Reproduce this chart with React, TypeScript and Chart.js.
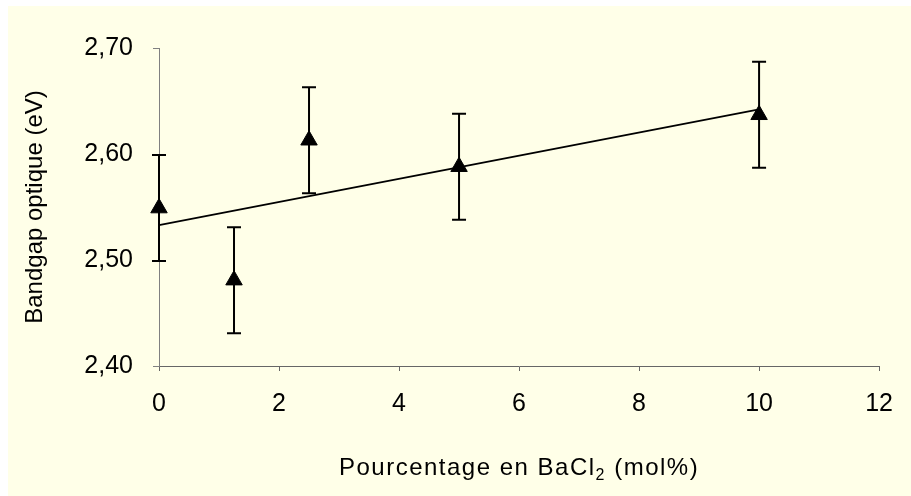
import React, { useEffect, useRef } from "react";
import { Chart, registerables } from "chart.js";

Chart.register(...registerables);

const xValues = [0, 1.25, 2.5, 5, 10];
const bandgap = [2.549, 2.481, 2.613, 2.588, 2.637];
const errors = [0.05, 0.05, 0.05, 0.05, 0.05];
const trendX = [0, 10];
const trendY = [2.533, 2.642];
const yTitle = "Bandgap optique (eV)";
const xTitleMain = "Pourcentage en BaCl";
const xTitleSub = "2";
const xTitleEnd = " (mol%)";

const FONT = "'Liberation Sans', Arial, sans-serif";

const errorBarPlugin = {
  id: "errorBars",
  beforeDatasetsDraw(chart: any) {
    const { ctx, scales } = chart;
    ctx.save();
    ctx.strokeStyle = "#000";
    ctx.lineWidth = 2;
    xValues.forEach((xv, i) => {
      const px = scales.x.getPixelForValue(xv);
      const top = scales.y.getPixelForValue(bandgap[i] + errors[i]);
      const bot = scales.y.getPixelForValue(bandgap[i] - errors[i]);
      ctx.beginPath();
      ctx.moveTo(px, top);
      ctx.lineTo(px, bot);
      ctx.moveTo(px - 7, top);
      ctx.lineTo(px + 7, top);
      ctx.moveTo(px - 7, bot);
      ctx.lineTo(px + 7, bot);
      ctx.stroke();
    });
    ctx.restore();
  },
};

const xTitlePlugin = {
  id: "xTitle",
  afterDraw(chart: any) {
    const { ctx, chartArea } = chart;
    ctx.save();
    ctx.fillStyle = "#000";
    (ctx as any).letterSpacing = "1.5px";
    const main = "24px " + FONT;
    const sub = "16px " + FONT;
    ctx.font = main;
    const w1 = ctx.measureText(xTitleMain).width;
    const w3 = ctx.measureText(xTitleEnd).width;
    ctx.font = sub;
    const w2 = ctx.measureText(xTitleSub).width;
    const total = w1 + w2 + w3;
    const cx = (chartArea.left + chartArea.right) / 2;
    const baseline = chart.height - 21;
    let x = cx - total / 2;
    ctx.textBaseline = "alphabetic";
    ctx.textAlign = "left";
    ctx.font = main;
    ctx.fillText(xTitleMain, x, baseline);
    x += w1;
    ctx.font = sub;
    ctx.fillText(xTitleSub, x, baseline + 5);
    x += w2;
    ctx.font = main;
    ctx.fillText(xTitleEnd, x, baseline);
    ctx.restore();
  },
};

export default function App() {
  const ref = useRef<HTMLCanvasElement>(null);
  useEffect(() => {
    if (!ref.current) return;
    const chart = new Chart(ref.current, {
      type: "scatter",
      data: {
        datasets: [
          {
            label: "Bandgap",
            data: xValues.map((x, i) => ({ x, y: bandgap[i] })),
            pointStyle: "triangle",
            pointRadius: 9.5,
            pointHoverRadius: 9.5,
            pointBackgroundColor: "#000",
            pointBorderColor: "#000",
            pointBorderWidth: 1,
            showLine: false,
            clip: false,
            order: 1,
          } as any,
          {
            label: "Trend",
            type: "line",
            data: trendX.map((x, i) => ({ x, y: trendY[i] })),
            borderColor: "#000",
            borderWidth: 1.75,
            pointRadius: 0,
            fill: false,
            clip: false,
            order: 2,
          } as any,
        ],
      },
      options: {
        animation: false,
        responsive: false,
        maintainAspectRatio: false,
        layout: { padding: { top: 42, right: 25, left: 0, bottom: 0 } },
        plugins: {
          legend: { display: false },
          tooltip: { enabled: false },
        },
        scales: {
          x: {
            type: "linear",
            min: 0,
            max: 12,
            ticks: {
              stepSize: 2,
              color: "#000",
              font: { family: FONT, size: 25 },
              padding: 18,
              maxRotation: 0,
            },
            grid: {
              drawOnChartArea: false,
              drawTicks: true,
              tickLength: 5,
              tickColor: "#666",
              tickWidth: 1,
            },
            border: { display: true, color: "#666", width: 1 },
            title: { display: false },
            afterFit(scale: any) {
              scale.height = 130;
            },
          },
          y: {
            type: "linear",
            min: 2.4,
            max: 2.7,
            ticks: {
              stepSize: 0.1,
              color: "#000",
              font: { family: FONT, size: 25 },
              padding: 20,
              callback: (v: any) => Number(v).toFixed(2).replace(".", ","),
            },
            grid: {
              drawOnChartArea: false,
              drawTicks: true,
              tickLength: 6,
              tickColor: "#808080",
              tickWidth: 1,
            },
            border: { display: true, color: "#808080", width: 1 },
            title: {
              display: true,
              text: yTitle,
              color: "#000",
              font: { family: FONT, size: 24 },
              padding: { top: 13, bottom: 0 },
            },
            afterFit(scale: any) {
              scale.width = 151;
            },
          },
        },
      },
      plugins: [errorBarPlugin, xTitlePlugin],
    });
    return () => chart.destroy();
  }, []);
  return (
    <div
      style={{
        position: "absolute",
        left: 8,
        top: 6,
        width: 903,
        height: 490,
        background: "#FFFFE8",
      }}
    >
      <canvas ref={ref} width={903} height={490} style={{ display: "block" }} />
    </div>
  );
}
